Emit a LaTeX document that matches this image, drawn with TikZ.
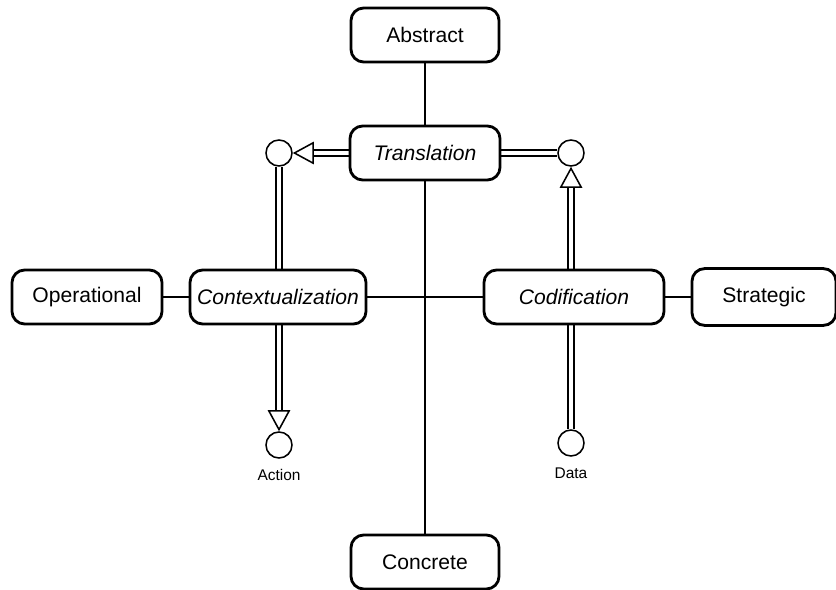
\documentclass[tikz,border=0pt]{standalone}
\usepackage{fontspec}
\setmainfont{Liberation Sans}
\usetikzlibrary{arrows.meta,backgrounds}

\begin{document}
\begin{tikzpicture}[x=0.025cm,y=-0.025cm,
    box/.style={draw,line width=2pt,rounded corners=9pt,fill=white,minimum height=1.35cm,font=\fontsize{15}{18}\selectfont},
    dot/.style={draw,circle,line width=1.1pt,minimum size=0.65cm,inner sep=0pt,fill=white,
      label={[label distance=4pt,font=\fontsize{11}{13}\selectfont]below:#1}},
    link/.style={line width=2pt},
    flow/.style={double,line width=1.1pt,double distance=3.4pt},
    tip/.style={-{Triangle[open,length=15pt,width=16pt,line width=1.1pt]}}]
  \useasboundingbox (0,0) rectangle (836,590);
  \node[box,minimum width=3.7cm] (abs) at (425,35) {Abstract};
  \node[box,minimum width=3.75cm] (trans) at (425,153) {\itshape Translation};
  \node[box,minimum width=3.7cm] (conc) at (425,562) {Concrete};
  \node[box,minimum width=3.75cm] (oper) at (87,297) {Operational};
  \node[box,minimum width=4.4cm] (ctx) at (278,297) {\itshape Contextualization};
  \node[box,minimum width=4.5cm] (cod) at (574,297) {\itshape Codification};
  \node[box,minimum width=3.6cm,minimum height=1.42cm] (strat) at (764,297) {Strategic};
  \node[dot={}] (lc) at (279,153) {};
  \node[dot={}] (rc) at (571,153) {};
  \node[dot=Action] (act) at (279,445) {};
  \node[dot=Data] (dat) at (571,443) {};
  \begin{scope}[on background layer]
    \draw[link] (abs) -- (trans) -- (conc);
    \draw[link] (oper) -- (ctx) -- (cod) -- (strat);
    \draw[flow,tip] (trans) -- (lc);
    \draw[flow] (trans) -- (rc);
    \draw[flow,tip] (lc) -- (act);
    \draw[flow,tip] (dat) -- (rc);
  \end{scope}
\end{tikzpicture}
\end{document}
